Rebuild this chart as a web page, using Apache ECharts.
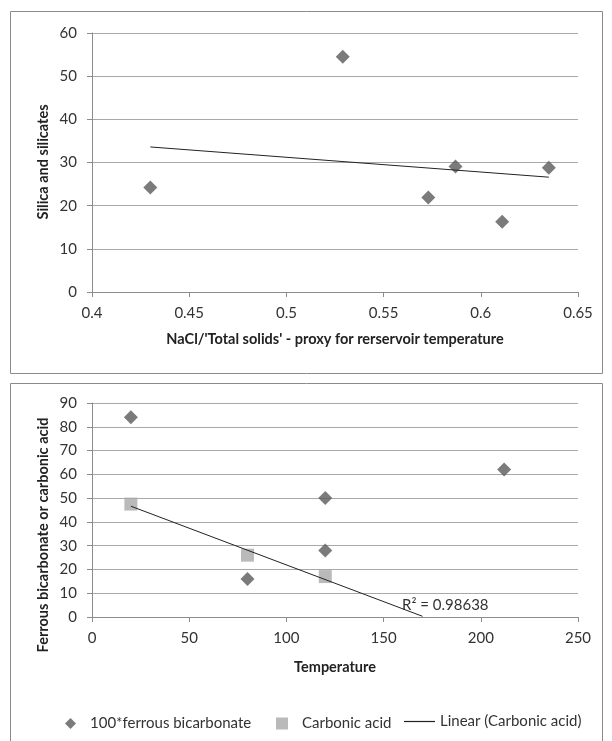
<!DOCTYPE html>
<html>
<head>
<meta charset="utf-8">
<script src="https://cdn.jsdelivr.net/npm/echarts@6/dist/echarts.min.js"></script>
<style>
  html, body { margin: 0; padding: 0; background: #fff; }
  #main { width: 612px; height: 741px; }
</style>
</head>
<body>
<div id="main"></div>
<script>
var myChart = echarts.init(document.getElementById('main'));

// top chart: silica vs NaCl ratio
var silicaPoints = [[0.43, 24.2], [0.529, 54.5], [0.573, 21.9], [0.587, 29.1], [0.611, 16.3], [0.635, 28.8]];
var silicaTrend = [[0.43, 33.6], [0.635, 26.6]];

// bottom chart: vs temperature
var ferrousPoints = [[20, 84], [80, 16], [120, 50], [120, 28], [212, 62]];
var carbonicPoints = [[20, 47.5], [80, 26], [120, 17]];
var carbonicTrend = [[20, 46.6], [170, 0.3]];
var r2Text = 'R² = 0.98638';

var font = 'Lato';
var txt = '#333';
var gridColor = '#a8a8a8';
var axisColor = '#8c8c8c';
var darkMark = '#5a5a5a';
var lightMark = '#a9a9a9';

function xAxisCfg(idx, min, max, step, title, gap) {
    return {
        gridIndex: idx, type: 'value', min: min, max: max, interval: step,
        name: title, nameLocation: 'middle', nameGap: gap,
        nameTextStyle: { fontFamily: font, fontSize: 14.5, fontWeight: 'bold', color: '#222' },
        axisLine: { onZero: false, lineStyle: { color: axisColor } },
        axisTick: { show: true, length: 5, lineStyle: { color: axisColor } },
        axisLabel: { margin: 14, fontFamily: font, fontSize: 15, color: txt },
        splitLine: { show: false }
    };
}
function yAxisCfg(idx, min, max, step) {
    return {
        gridIndex: idx, type: 'value', min: min, max: max, interval: step,
        axisLine: { show: true, lineStyle: { color: axisColor } },
        axisTick: { show: true, length: 5, lineStyle: { color: axisColor } },
        axisLabel: { margin: 15, fontFamily: font, fontSize: 15, color: txt },
        splitLine: { show: true, lineStyle: { color: gridColor, width: 1 } }
    };
}

option = {
    animation: false,
    textStyle: { fontFamily: font },
    grid: [
        { left: 92, top: 33, right: 34, height: 259 },
        { left: 92, top: 403, right: 34, height: 214 }
    ],
    xAxis: [
        xAxisCfg(0, 0.4, 0.65, 0.05, "NaCl/'Total solids' - proxy for rerservoir temperature", 40),
        xAxisCfg(1, 0, 250, 50, 'Temperature', 43)
    ],
    yAxis: [
        yAxisCfg(0, 0, 60, 10),
        yAxisCfg(1, 0, 90, 10)
    ],
    legend: [
        {
            left: 60, top: 711, itemWidth: 11, itemHeight: 11,
            data: [{ name: '100*ferrous bicarbonate', icon: 'diamond' }],
            textStyle: { fontFamily: font, fontSize: 15, color: txt, padding: [0, 0, 0, 9] }
        },
        {
            left: 271, top: 711, itemWidth: 12, itemHeight: 12,
            data: [{ name: 'Carbonic acid', icon: 'rect' }],
            textStyle: { fontFamily: font, fontSize: 15, color: txt, padding: [0, 0, 0, 9] }
        },
        {
            left: 399, top: 709, itemWidth: 31, itemHeight: 1.2,
            data: [{ name: 'Linear (Carbonic acid)', icon: 'rect' }],
            textStyle: { fontFamily: font, fontSize: 15, color: txt }
        }
    ],
    graphic: [
        { type: 'rect', shape: { x: 10.5, y: 11.5, width: 592, height: 362 },
          style: { fill: null, stroke: '#8a8a8a', lineWidth: 1 }, z: -1 },
        { type: 'rect', shape: { x: 10.5, y: 383.5, width: 592, height: 400 },
          style: { fill: null, stroke: '#8a8a8a', lineWidth: 1 }, z: -1 },
        { type: 'text', x: 43, y: 162, rotation: Math.PI / 2,
          style: { text: 'Silica and silicates', fontFamily: font, fontSize: 14.5, fontWeight: 'bold',
                   fill: '#222', align: 'center', verticalAlign: 'middle' } },
        { type: 'text', x: 43, y: 535, rotation: Math.PI / 2,
          style: { text: 'Ferrous bicarbonate or carbonic acid', fontFamily: font, fontSize: 14.5, fontWeight: 'bold',
                   fill: '#222', align: 'center', verticalAlign: 'middle' } },
        { type: 'text', x: 402, y: 605,
          style: { text: r2Text, fontFamily: font, fontSize: 15, fill: txt,
                   align: 'left', verticalAlign: 'middle' } }
    ],
    series: [
        {
            name: 'Silica', type: 'scatter', xAxisIndex: 0, yAxisIndex: 0,
            symbol: 'diamond', symbolSize: 14,
            itemStyle: { color: darkMark },
            data: silicaPoints
        },
        {
            name: 'Silica trend', type: 'line', xAxisIndex: 0, yAxisIndex: 0,
            symbol: 'none', lineStyle: { color: '#222', width: 1 },
            data: silicaTrend
        },
        {
            name: '100*ferrous bicarbonate', type: 'scatter', xAxisIndex: 1, yAxisIndex: 1,
            symbol: 'diamond', symbolSize: 14,
            itemStyle: { color: darkMark },
            data: ferrousPoints
        },
        {
            name: 'Carbonic acid', type: 'scatter', xAxisIndex: 1, yAxisIndex: 1,
            symbol: 'rect', symbolSize: 13,
            itemStyle: { color: lightMark },
            data: carbonicPoints
        },
        {
            name: 'Linear (Carbonic acid)', type: 'line', xAxisIndex: 1, yAxisIndex: 1,
            symbol: 'none', lineStyle: { color: '#222', width: 1 },
            itemStyle: { color: '#222' },
            data: carbonicTrend, z: 3
        }
    ]
};
myChart.setOption(option);
</script>
</body>
</html>
